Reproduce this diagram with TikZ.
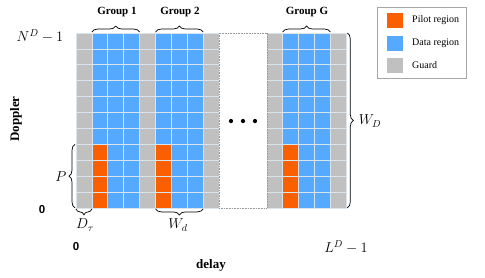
\documentclass[tikz,border=0pt]{standalone}
\usepackage[no-math]{fontspec}
\setmainfont{Liberation Serif}
\newfontfamily\zerofont{Liberation Sans}
\usetikzlibrary{decorations.pathreplacing,calc}
\definecolor{pilotc}{RGB}{250,96,0}
\definecolor{datac}{RGB}{85,170,255}
\definecolor{guardc}{RGB}{192,192,192}
\definecolor{gridc}{RGB}{218,228,236}
\begin{document}
\begin{tikzpicture}[x=1pt,y=-1pt,
  cell/.style={minimum size=15.9pt,inner sep=0pt,outer sep=0pt,draw=gridc,line width=0.8pt},
  gcell/.style={cell,fill=guardc},
  dcell/.style={cell,fill=datac},
  pcell/.style={cell,fill=pilotc},
  brc/.style={decorate,decoration={brace,amplitude=6pt,raise=1pt},line width=0.7pt},
  glabel/.style={font=\fontsize{11}{13}\selectfont\bfseries,inner sep=0pt},
  mlabel/.style={font=\fontsize{14}{16}\selectfont,inner sep=0pt},
  axlabel/.style={font=\fontsize{13}{15}\selectfont\bfseries,inner sep=0pt},
  zlabel/.style={font=\fontsize{11.5}{13}\selectfont\zerofont\bfseries,inner sep=0pt},
  legsq/.style={minimum width=16pt,minimum height=15pt,inner sep=0pt},
  legtext/.style={font=\fontsize{10}{12}\selectfont,anchor=west,inner sep=0pt},
  dot/.style={circle,fill=black,inner sep=1.5pt}]
\useasboundingbox (0,0) rectangle (485,277);
% guard columns
\foreach \c in {0,4,8,12,16}
  \foreach \r in {0,...,10}
    \node[gcell] (c-\c-\r) at ({76+15.9*(\c+0.5)},{33+15.9*(\r+0.5)}) {};
% data columns
\foreach \c in {2,3,6,7,14,15}
  \foreach \r in {0,...,10}
    \node[dcell] (c-\c-\r) at ({76+15.9*(\c+0.5)},{33+15.9*(\r+0.5)}) {};
% first columns of groups: data then pilot
\foreach \c in {1,5,13}{
  \foreach \r in {0,...,6}
    \node[dcell] (c-\c-\r) at ({76+15.9*(\c+0.5)},{33+15.9*(\r+0.5)}) {};
  \foreach \r in {7,...,10}
    \node[pcell] (c-\c-\r) at ({76+15.9*(\c+0.5)},{33+15.9*(\r+0.5)}) {};
}
% gap
\node[draw=gray!80,densely dotted,line width=0.6pt,fill=white,minimum width=47.7pt,minimum height=174.9pt,inner sep=0pt] (gap) at (242.95,120.45) {};
\node[dot] (d1) at (231,121) {};
\node[dot] (d2) at (243,121) {};
\node[dot] (d3) at (255,121) {};
% braces
\draw[brc] (c-1-0.north west) -- (c-3-0.north east);
\draw[brc] (c-5-0.north west) -- (c-7-0.north east);
\draw[brc] (c-13-0.north west) -- (c-15-0.north east);
\draw[brc] (c-0-10.south west) -- (c-0-7.north west);
\draw[brc] (c-0-10.south east) -- (c-0-10.south west);
\draw[brc] (c-7-10.south east) -- (c-5-10.south west);
\draw[brc] (c-16-0.north east) -- (c-16-10.south east);
% labels
\node[glabel] (g1) at (117,12) {Group 1};
\node[glabel] (g2) at (180,12) {Group 2};
\node[glabel] (gG) at (307,12) {Group G};
\node[mlabel] (nd) at (40,36) {$N^D-1$};
\node[axlabel,rotate=90] (dop) at (16,119) {Doppler};
\node[zlabel] (z1) at (42,210) {0};
\node[mlabel] (p) at (61,177) {$P$};
\node[mlabel] (dt) at (85,225) {$D_\tau$};
\node[mlabel] (wd) at (178,225) {$W_d$};
\node[mlabel] (wD) at (370,121) {$W_D$};
\node[zlabel] (z2) at (76,247) {0};
\node[mlabel] (ld) at (346,247) {$L^D-1$};
\node[axlabel] (delay) at (211,265) {delay};
% legend
\node[draw=gray!70,line width=0.6pt,minimum width=89pt,minimum height=71pt,inner sep=0pt] (leg) at (421.5,42.5) {};
\node[legsq,fill=pilotc] (lp) at (395,20) {};
\node[legsq,fill=datac] (ldd) at (395,43) {};
\node[legsq,fill=guardc] (lg) at (395,65) {};
\node[legtext] (tp) at (412,20) {Pilot region};
\node[legtext] (td) at (412,43) {Data region};
\node[legtext] (tg) at (412,65) {Guard};
\end{tikzpicture}
\end{document}
